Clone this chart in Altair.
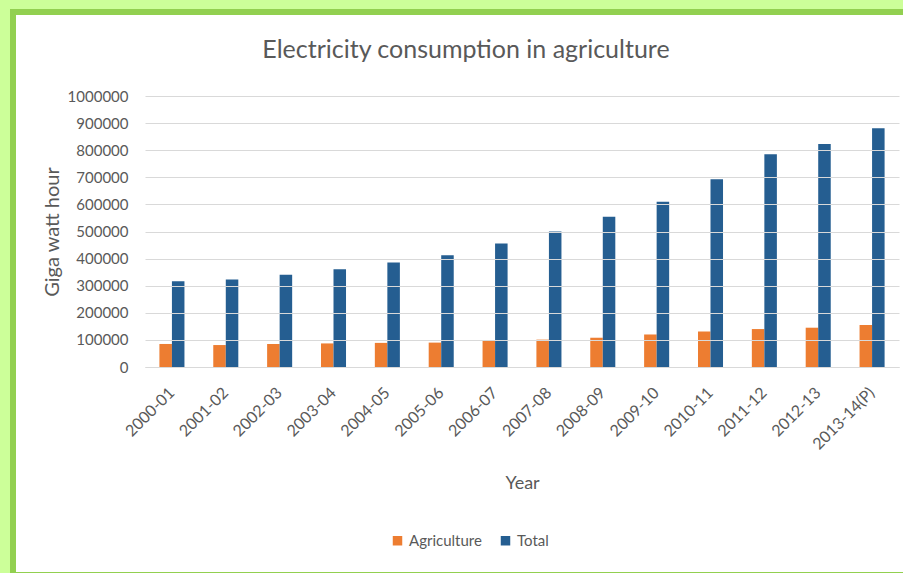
import altair as alt
import pandas as pd

years = ["2000-01", "2001-02", "2002-03", "2003-04", "2004-05", "2005-06", "2006-07",
         "2007-08", "2008-09", "2009-10", "2010-11", "2011-12", "2012-13", "2013-14(P)"]
agriculture = [85000, 81000, 85000, 87000, 89000, 90000, 98000,
               101000, 108000, 120000, 131000, 140000, 145000, 155000]
total = [316000, 323000, 340000, 361000, 386000, 412000, 456000,
         500000, 554000, 610000, 693000, 785000, 823000, 881000]
series = ["Agriculture", "Total"]
colors = ["#ED7D31", "#255E91"]
y_ticks = [0, 100000, 200000, 300000, 400000, 500000, 600000, 700000, 800000, 900000, 1000000]

rows = []
for i, yr in enumerate(years):
    rows.append({"Year": yr, "Series": "Agriculture", "Value": agriculture[i]})
    rows.append({"Year": yr, "Series": "Total", "Value": total[i]})
df = pd.DataFrame(rows)

FONT = "Lato, Liberation Sans, sans-serif"
TXT = "#595959"
W, H = 754, 271
PL, PT = 145, 96

one = pd.DataFrame({"k": [0]})
frame_outer = alt.Chart(one).mark_rect(color="#92D050").encode(
    x=alt.value(10 - PL), x2=alt.value(903 - PL),
    y=alt.value(9 - PT), y2=alt.value(573 - PT))
frame_inner = alt.Chart(one).mark_rect(color="white").encode(
    x=alt.value(16 - PL), x2=alt.value(903 - PL),
    y=alt.value(15 - PT), y2=alt.value(572 - PT))

bars = alt.Chart(df).mark_bar().encode(
    x=alt.X("Year:N", sort=years,
            scale=alt.Scale(paddingInner=0.535, paddingOuter=0.2675),
            axis=alt.Axis(title="Year", labelAngle=-45, labelAlign="right",
                          labelBaseline="middle", labelPadding=23, ticks=False,
                          grid=False, domainColor="#D9D9D9", labelColor=TXT,
                          labelFontSize=16, labelFont=FONT, zindex=1,
                          titleFont=FONT, titleFontSize=18, titleColor=TXT,
                          titleFontWeight="normal", titleX=377, titleY=116,
                          titleBaseline="middle", titleAlign="center")),
    xOffset=alt.XOffset("Series:N", sort=series,
                        scale=alt.Scale(paddingInner=0, paddingOuter=0)),
    y=alt.Y("Value:Q", scale=alt.Scale(domain=[0, 1000000], nice=False),
            axis=alt.Axis(values=y_ticks, format="d", title="Giga watt hour",
                          ticks=False, domain=False, grid=True, gridColor="#D9D9D9",
                          labelColor=TXT, labelFontSize=15, labelFont=FONT, zindex=1,
                          labelPadding=17, titleFont=FONT, titleFontSize=20,
                          titleColor=TXT, titleFontWeight="normal",
                          titleX=-93, titleY=135.5, titleAngle=270,
                          titleBaseline="middle", titleAlign="center")),
    color=alt.Color("Series:N", scale=alt.Scale(domain=series, range=colors),
                    legend=alt.Legend(title=None, orient="none", legendX=245, legendY=437,
                                      direction="horizontal", symbolType="square",
                                      symbolSize=90, symbolStrokeWidth=0,
                                      labelFontSize=15, labelFont=FONT, labelColor=TXT,
                                      columnPadding=16, labelOffset=4))
)

chart = alt.layer(frame_outer, frame_inner, bars).properties(
    width=W, height=H,
    title=alt.TitleParams("Electricity consumption in agriculture", fontSize=25,
                          font=FONT, color=TXT, fontWeight="normal",
                          anchor="middle", dx=-56, dy=58)
).configure(
    autosize=alt.AutoSizeParams(type="none"),
    padding={"left": PL, "top": PT, "right": 903 - PL - W, "bottom": 573 - PT - H},
    background="#CCFF99",
).configure_view(stroke=None)

chart.save("out.html", embed_options={"renderer": "svg", "actions": False})
